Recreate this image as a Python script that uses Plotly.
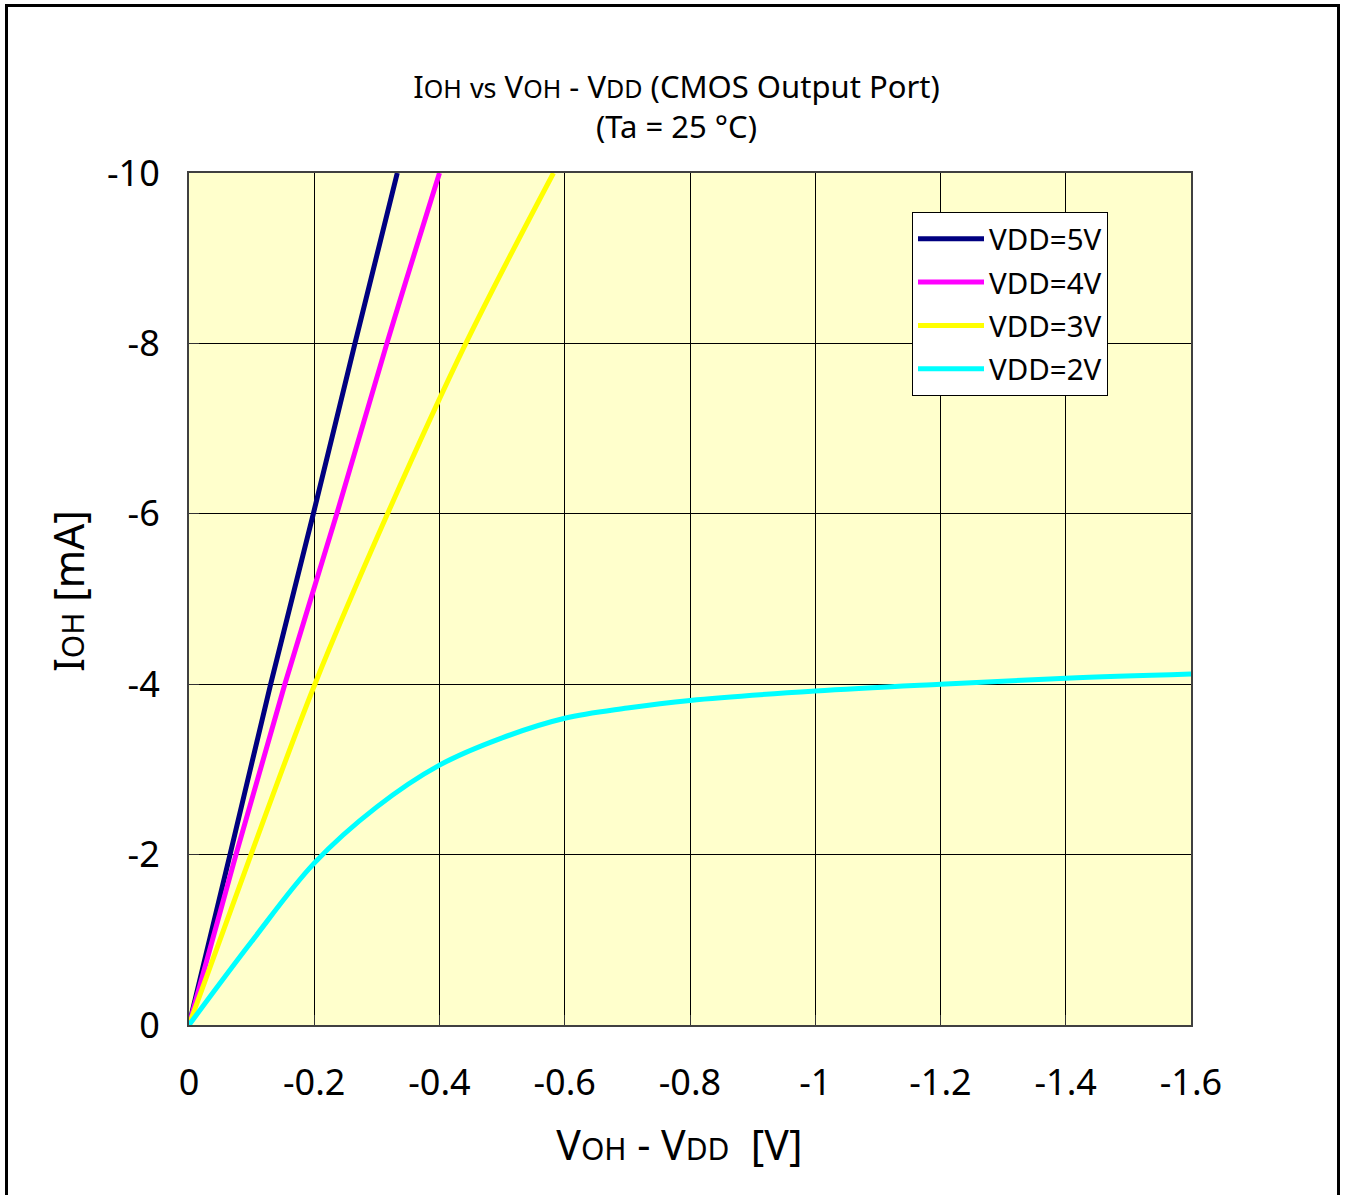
import plotly.graph_objects as go

# ---- data ----
v_5v = [0, -0.0655, -0.1304, -0.1985, -0.265, -0.3326]
i_5v = [0, -2, -4, -6, -8, -10]

v_4v = [0, -0.075, -0.153, -0.236, -0.316, -0.400]
i_4v = [0, -2, -4, -6, -8, -10]

v_3v = [0, -0.099, -0.201, -0.317, -0.442, -0.582]
i_3v = [0, -2, -4, -6, -8, -10]

v_2v = [0, -0.1, -0.2, -0.3, -0.4, -0.5, -0.6, -0.7, -0.8, -1.0, -1.2, -1.4, -1.6]
i_2v = [0, -0.98, -1.9, -2.56, -3.05, -3.37, -3.6, -3.72, -3.81, -3.92, -4.0, -4.07, -4.12]

series_names = ["VDD=5V", "VDD=4V", "VDD=3V", "VDD=2V"]
series_colors = ["#000080", "#FF00FF", "#FFFF00", "#00FFFF"]

x_tickvals = [0, -0.2, -0.4, -0.6, -0.8, -1.0, -1.2, -1.4, -1.6]
x_ticktext = ["0", "-0.2", "-0.4", "-0.6", "-0.8", "-1", "-1.2", "-1.4", "-1.6"]
y_tickvals = [0, -2, -4, -6, -8, -10]
y_ticktext = ["0", "-2", "-4", "-6", "-8", "-10"]

FONT = "Noto Sans"

fig = go.Figure()
for k, (vx, iy, name, col) in enumerate(zip([v_5v, v_4v, v_3v, v_2v], [i_5v, i_4v, i_3v, i_2v],
                                            series_names, series_colors)):
    fig.add_trace(go.Scatter(x=vx, y=iy, mode="lines", name=name, legendgroup=f"g{k}",
                             line=dict(color=col, width=5, shape="spline", smoothing=1.0)))

W, H = 1345, 1195
L, R, T, B = 189, 1191, 173, 1025

fig.update_layout(
    width=W, height=H,
    margin=dict(l=L, r=W - R, t=T, b=H - B, autoexpand=False),
    paper_bgcolor="white",
    plot_bgcolor="#FFFFCC",
    font=dict(family=FONT, color="black"),
    title=dict(
        text=("I<span style='font-size:25px'>OH</span> <span style='font-size:27px'>vs</span> "
              "V<span style='font-size:25px'>OH</span> - V<span style='font-size:25px'>DD</span> "
              "(CMOS Output Port)<br>(Ta = 25 °C)"),
        font=dict(family=FONT, size=31, color="black"),
        x=676.5 / W, xanchor="center", xref="container",
        y=1 - 98 / H, yanchor="middle", yref="container",
    ),
    showlegend=True,
    legend=dict(
        x=(912 - L) / (R - L), xanchor="left",
        y=(B - 212) / (B - T), yanchor="top",
        bgcolor="white", bordercolor="black", borderwidth=1,
        font=dict(family=FONT, size=29.5, color="black"),
        itemwidth=66, tracegroupgap=2,
    ),
)

fig.update_xaxes(
    range=[0, -1.6],
    tickvals=x_tickvals, ticktext=x_ticktext,
    tickfont=dict(family=FONT, size=36, color="black"),
    ticks="inside", ticklen=10, tickcolor="#333333",
    ticklabelstandoff=25,
    showgrid=True, gridcolor="black", gridwidth=1,
    showline=True, linecolor="#404040", linewidth=2, mirror=True,
    zeroline=False,
    title=dict(
        text=("V<span style='font-size:30px'>OH</span> - V<span style='font-size:30px'>DD</span>"
              "  [V]&nbsp;&nbsp;"),
        font=dict(family=FONT, size=41, color="black"),
        standoff=26,
    ),
)
fig.update_yaxes(
    range=[0, -10],
    tickvals=y_tickvals, ticktext=y_ticktext,
    tickfont=dict(family=FONT, size=36, color="black"),
    ticks="inside", ticklen=10, tickcolor="#333333",
    ticklabelstandoff=20,
    showgrid=True, gridcolor="black", gridwidth=1,
    showline=True, linecolor="#404040", linewidth=2, mirror=True,
    zeroline=False,
    title=dict(
        text="<span style='font-size:60px'>&nbsp;</span>I<span style='font-size:30px'>OH</span> [mA]",
        font=dict(family=FONT, size=41, color="black"),
        standoff=10,
    ),
)

# outer frame of the figure
fig.add_shape(type="rect", xref="paper", yref="paper",
              x0=(6.5 - L) / (R - L), x1=(1338.5 - L) / (R - L),
              y0=(B - 1210) / (B - T), y1=(B - 5.5) / (B - T),
              line=dict(color="black", width=3), fillcolor="rgba(0,0,0,0)", layer="above")

fig.write_html("out.html",
               config={"displayModeBar": False},
               post_script="document.body.style.margin='0';document.body.style.overflow='hidden';")
